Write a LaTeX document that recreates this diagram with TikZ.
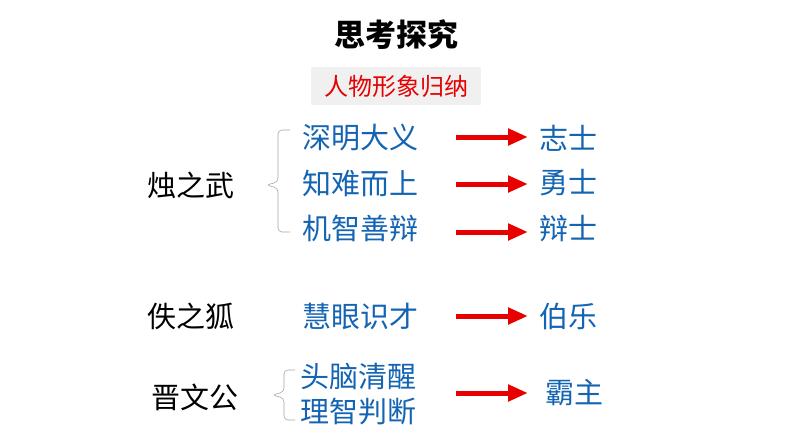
\documentclass[tikz,border=0pt]{standalone}
\usepackage{fontspec}
\setmainfont{Noto Sans CJK SC}
\usetikzlibrary{arrows.meta}
\definecolor{bl}{RGB}{20,100,180}
\definecolor{rd}{RGB}{230,0,0}
\begin{document}
\begin{tikzpicture}[x=1pt,y=-1pt,
 bt/.style={font=\fontsize{29}{31}\selectfont,text=bl,inner sep=0pt},
 lt/.style={font=\fontsize{29}{31}\selectfont,text=black,inner sep=0pt},
 arr/.style={draw=rd,line width=5pt,-{Triangle[length=20pt,width=16pt]}},
 br/.style={draw=gray!70,line width=0.6pt,rounded corners=4pt}]
\useasboundingbox[fill=white] (0,0) rectangle (794,447);
\node[font=\fontsize{31}{33}\selectfont\bfseries] (t) at (396,35) {思考探究};
\node[fill=gray!12,minimum width=170pt,minimum height=38pt,text=rd,font=\fontsize{24}{26}\selectfont,inner sep=0pt] (s) at (396,86) {人物形象归纳};
\node[lt] (z) at (191,185) {烛之武};
\node[lt] (y) at (191,316) {佚之狐};
\node[lt] (j) at (195,397) {晋文公};
\node[bt] (a1) at (360,138) {深明大义};
\node[bt] (a2) at (360,183) {知难而上};
\node[bt] (a3) at (360,228) {机智善辩};
\node[bt] (a4) at (360,316) {慧眼识才};
\node[bt] (a5) at (358,377) {头脑清醒};
\node[bt] (a6) at (358,412) {理智判断};
\node[bt] (b1) at (568,138) {志士};
\node[bt] (b2) at (568,183) {勇士};
\node[bt] (b3) at (568,228) {辩士};
\node[bt] (b4) at (568,316) {伯乐};
\node[bt] (b5) at (574,393) {霸主};
\coordinate (p1s) at (456,137); \coordinate (p1e) at (528,137);
\coordinate (p2s) at (456,184); \coordinate (p2e) at (528,184);
\coordinate (p3s) at (456,232); \coordinate (p3e) at (528,232);
\coordinate (p4s) at (456,316); \coordinate (p4e) at (528,316);
\coordinate (p5s) at (456,393); \coordinate (p5e) at (528,393);
\foreach \i in {1,...,5}{\draw[arr] (p\i s) -- (p\i e);}
\draw[br] (290,130) -- (278,130) -- (278,182) -- (266,185) -- (278,188) -- (278,232) -- (290,232);
\draw[br] (295,370) -- (284,370) -- (284,392) -- (272,395) -- (284,398) -- (284,420) -- (295,420);
\end{tikzpicture}
\end{document}
